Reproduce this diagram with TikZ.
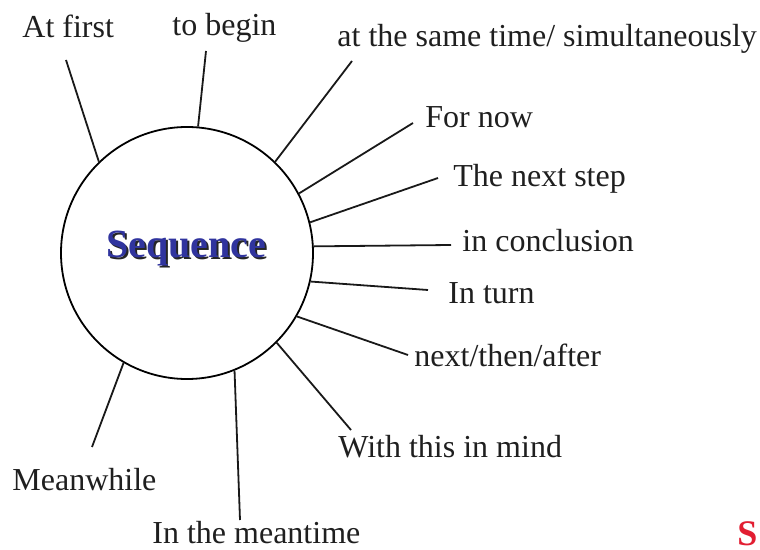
\documentclass[tikz,border=0pt]{standalone}
\usepackage{fontspec}
\setmainfont{Liberation Serif}
\usepackage{xcolor}
\usetikzlibrary{positioning}

\definecolor{seqblue}{RGB}{48,52,158}
\definecolor{seqred}{RGB}{226,30,50}

\begin{document}
\begin{tikzpicture}[
    x=0.5pt, y=-0.5pt,
    hub/.style={draw, circle, line width=0.9pt, minimum size=126pt, inner sep=0pt},
    spoke/.style={line width=0.9pt, draw=black!90},
    word/.style={anchor=base west, inner sep=0pt, font=\fontsize{16}{19}\selectfont, text=black!88},
    title/.style={anchor=base, inner sep=0pt, font=\fontsize{20}{23}\selectfont\bfseries, text=#1},
    title/.default=seqblue,
]
\useasboundingbox (0,0) rectangle (760,550);

% Hub
\node[hub] (seq) at (187,253) {};
\node[title=black!85] (seqshadow) at (188.2,259.2) {Sequence};
\node[title] (seqtext) at (186.5,258) {Sequence};

% Words
\node[word] (first) at (22,38) {At first};
\node[word] (begin) at (172,36) {to begin};
\node[word] (same) at (337,47) {at the same time/ simultaneously};
\node[word] (fornow) at (425,128) {For now};
\node[word] (nextstep) at (453,187) {The next step};
\node[word] (concl) at (462,252) {in conclusion};
\node[word] (inturn) at (448,304) {In turn};
\node[word] (then) at (414,367) {next/then/after};
\node[word] (mind) at (338,458) {With this in mind};
\node[word] (meanwhile) at (12,490) {Meanwhile};
\node[word] (meantime) at (152,543) {In the meantime};

% Spoke ends
\coordinate (e1) at (66,60);
\coordinate (e2) at (206,51);
\coordinate (e3) at (352,61);
\coordinate (e4) at (413,123);
\coordinate (e5) at (438,178);
\coordinate (e6) at (451,245);
\coordinate (e7) at (428,290);
\coordinate (e8) at (408,355);
\coordinate (e9) at (351,430);
\coordinate (e10) at (240,520);
\coordinate (e11) at (92,447);

% Spokes
\draw[spoke] (seq.134.4) -- (e1);
\draw[spoke] (seq.85.5) -- (e2);
\draw[spoke] (seq.46) -- (e3);
\draw[spoke] (seq.28.4) -- (e4);
\draw[spoke] (seq.14.3) -- (e5);
\draw[spoke] (seq.3.7) -- (e6);
\draw[spoke] (seq.-13.3) -- (e7);
\draw[spoke] (seq.-30.2) -- (e8);
\draw[spoke] (seq.-45.3) -- (e9);
\draw[spoke] (seq.-68.9) -- (e10);
\draw[spoke] (seq.-120.4) -- (e11);

% Corner mark
\node[anchor=base west, inner sep=0pt, font=\fontsize{18}{20}\selectfont\bfseries, text=seqred] (mark) at (737,545) {S};
\end{tikzpicture}
\end{document}
